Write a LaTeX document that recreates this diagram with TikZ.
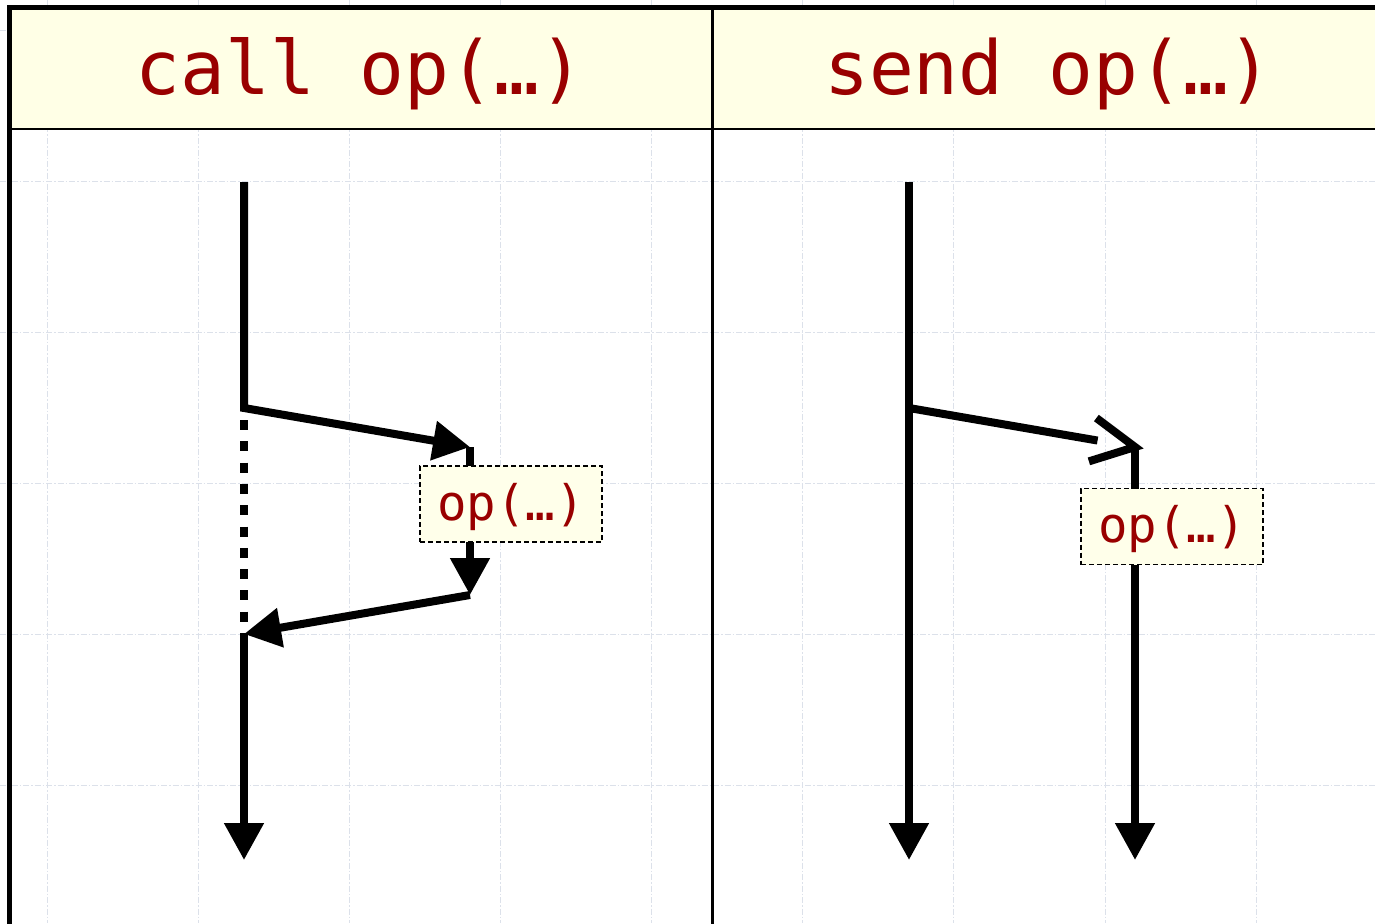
\documentclass[tikz,border=0pt]{standalone}
\usepackage{fontspec}
\newfontfamily\codefont{DejaVu Sans Mono}
\usetikzlibrary{arrows.meta,calc}
\definecolor{codered}{HTML}{990000}
\definecolor{headfill}{HTML}{FFFFE6}
\definecolor{notefill}{HTML}{FFFFEA}
\definecolor{gridc}{HTML}{DCE1EA}
\begin{document}
\begin{tikzpicture}[x=1pt,y=-1pt,
  gridline/.style={draw=gridc, line width=0.9pt,
    dash pattern=on 6pt off 2pt on 1.5pt off 2pt},
  frameline/.style={line width=5.5pt},
  thinline/.style={line width=2.5pt},
  life/.style={line width=8pt},
  tip/.style={-{Triangle[length=37pt,width=38pt]}},
  waitline/.style={line width=8pt, dash pattern=on 10pt off 11.3pt},
  headtext/.style={text=codered, anchor=base, inner sep=0pt,
    font=\codefont\fontsize{74.5}{90}\selectfont},
  note/.style={draw, line width=1.3pt, dash pattern=on 5pt off 3pt,
    fill=notefill, text=codered, inner sep=0pt,
    minimum width=182pt, minimum height=76pt,
    text height=40pt, text depth=8pt,
    font=\codefont\fontsize{49}{60}\selectfont},
]
\useasboundingbox (0,0) rectangle (1375,923);
\fill[white] (0,0) rectangle (1375,923);

% background grid
\foreach \gx in {47,198,349,500,651,802,953,1105,1256}
  \draw[gridline] (\gx,0) -- (\gx,923);
\foreach \gy in {30,181,332,483,634,785}
  \draw[gridline] (0,\gy) -- (1375,\gy);

% header band and frame
\fill[headfill] (9.5,7.5) rectangle (1384,129);
\draw[thinline] (9.5,129) -- (1384,129);
\draw[thinline] (712.5,7.5) -- (712.5,930);
\draw[frameline] (9.5,930) -- (9.5,7.5) -- (1384,7.5);

\node[headtext] (hcall) at (360,95) {call op(…)};
\node[headtext] (hsend) at (1048.5,95) {send op(…)};

% synchronous call
\coordinate (L0) at (244,182);
\coordinate (L1) at (244,408);
\coordinate (L2) at (244,634);
\coordinate (Lend) at (244,860);
\coordinate (C1) at (470,447);
\coordinate (C2) at (470,595);

\draw[life, tip] (L0) -- (L1) -- (C1);
\draw[waitline, shorten <=12pt] (L1) -- (L2);
\draw[life, tip] (C1) -- (C2);
\draw[life, tip] (C2) -- (L2);
\draw[life, tip] (L2) -- (Lend);
\node[note] (opcall) at (511,504) {op(…)};

% asynchronous send
\coordinate (R0) at (909,182);
\coordinate (R1) at (909,408);
\coordinate (Rend) at (909,860);
\coordinate (T) at (1135,447);
\coordinate (Tend) at (1135,860);

\draw[life, tip] (R0) -- (Rend);
\draw[life, shorten >=38pt] (R1) -- (T);
\coordinate (Tb) at ($(T)!43pt!(R1)$);
\draw[life, line join=miter] ($(Tb)!22pt!90:(T)$) -- (T) -- ($(Tb)!22pt!-90:(T)$);
\draw[life, tip] (T) -- (Tend);
\node[note] (opsend) at (1172,526.5) {op(…)};
\end{tikzpicture}
\end{document}
